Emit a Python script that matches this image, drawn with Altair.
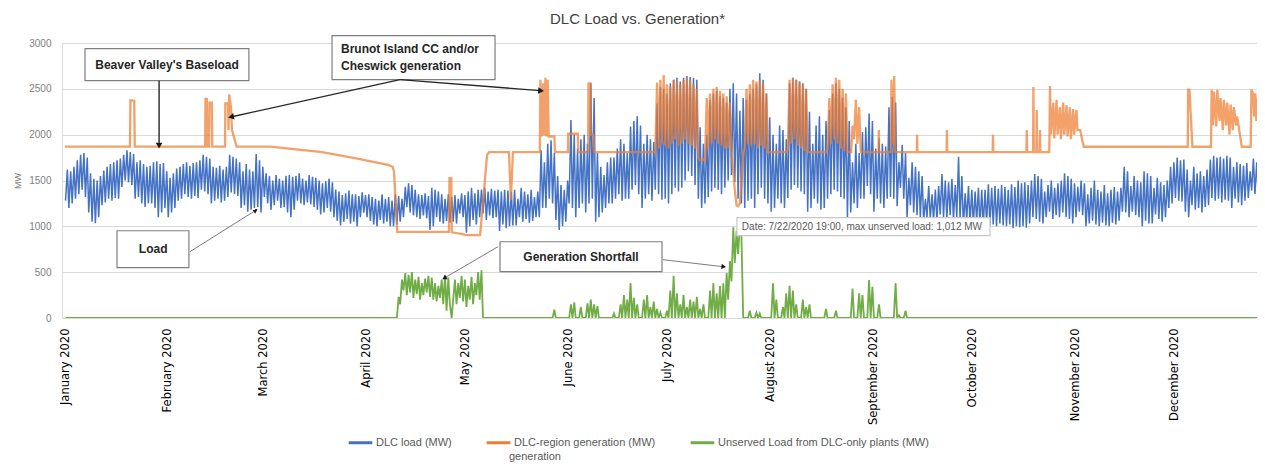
import altair as alt
import numpy as np
import pandas as pd

TITLE = "DLC Load vs. Generation*"
SERIES = ["DLC load (MW)", "DLC-region generation (MW)",
          "Unserved Load from DLC-only plants (MW)"]
COLORS = ["#4472C4", "#ED7D31", "#70AD47"]
Y_TICKS = [0, 500, 1000, 1500, 2000, 2500, 3000]
MONTHS = list(range(1, 13))

# DLC load, one night trough (04:00) and one evening peak (17:00) per day, 1 Jan .. 31 Dec 2020
load_am = [
    1280, 1200, 1250, 1300, 1350, 1400, 1320, 1150, 1050, 1035, 1100, 1230, 1260, 1300, 1280, 1310, 1300, 1430, 1500, 1480, 1450, 1300, 1320, 1250, 1210, 1250, 1250, 1200, 1100, 1150, 1200,
    1100, 1150, 1200, 1280, 1300, 1350, 1320, 1300, 1330, 1310, 1400, 1380, 1350, 1250, 1280, 1300, 1260, 1280, 1320, 1370, 1350, 1330, 1200, 1230, 1160, 1180, 1200, 1210, 1150,
    1320, 1250, 1180, 1230, 1280, 1200, 1210, 1150, 1100, 1180, 1280, 1250, 1230, 1260, 1240, 1210, 1180, 1130, 1150, 1200, 1160, 1100, 1060, 1010, 1050, 1080, 1030, 1050, 1000, 1100, 1150,
    1100, 1060, 1020, 1000, 1070, 1030, 1050, 1000, 1000, 1020, 1050, 1100, 1210, 1150, 1120, 1100, 1080, 1120, 1090, 960, 1000, 1100, 1050, 1030, 1060, 1040, 1050, 1030, 1140, 1100,
    930, 1000, 1070, 1020, 1100, 1140, 1070, 1120, 1090, 1100, 950, 1020, 980, 1000, 1010, 1010, 1100, 1050, 1080, 1040, 1060, 1100, 1100, 1200, 1200, 1300, 1250, 1070, 960, 1000, 1050,
    1250, 1200, 1100, 1200, 1250, 1150, 1250, 1300, 1050, 1100, 1150, 1200, 1250, 1250, 1300, 1350, 1280, 1300, 1300, 1400, 1450, 1350, 1200, 1300, 1350, 1280, 1400, 1350, 1290, 1300,
    1250, 1350, 1420, 1380, 1420, 1500, 1600, 1550, 1450, 1300, 1200, 1250, 1320, 1380, 1420, 1400, 1350, 1420, 1500, 1560, 1480, 1300, 1250, 1200, 1280, 1300, 1200, 1350, 1420, 1300, 1250,
    1160, 1200, 1300, 1250, 1200, 1310, 1400, 1450, 1420, 1380, 1350, 1160, 1200, 1300, 1250, 1180, 1200, 1300, 1350, 1400, 1380, 1320, 1300, 1100, 1150, 1250, 1200, 1300, 1300, 1440, 1350,
    1160, 1300, 1250, 1200, 1300, 1320, 1300, 1220, 1420, 1300, 1100, 1230, 1150, 1120, 1100, 1060, 1100, 1080, 1070, 1060, 1130, 1100, 1080, 1120, 1070, 1100, 1080, 1000, 1070, 1030,
    1020, 1050, 1000, 1000, 1030, 1010, 1020, 1000, 1030, 1010, 1000, 1020, 980, 1000, 990, 1000, 985, 1030, 1100, 1080, 1050, 1030, 1100, 1160, 1080, 1120, 1100, 1150, 1100, 1080, 1030,
    1100, 1160, 1120, 1000, 1030, 1060, 1020, 1000, 1040, 1010, 1000, 1040, 1020, 1060, 1160, 1150, 1100, 1160, 1120, 1100, 1000, 1060, 1030, 1030, 1130, 1080, 1050, 1100, 1200, 1250,
    1310, 1280, 1270, 1160, 1100, 1230, 1180, 1200, 1150, 1210, 1230, 1310, 1280, 1300, 1260, 1290, 1280, 1200, 1300, 1260, 1230, 1280, 1310, 1390, 1350, 1320, 1380, 1340, 1350, 1300, 1280,
]
load_pm = [
    1620, 1600, 1650, 1720, 1780, 1800, 1750, 1580, 1520, 1500, 1550, 1610, 1650, 1680, 1700, 1720, 1740, 1780, 1830, 1810, 1790, 1700, 1720, 1680, 1650, 1660, 1700, 1710, 1680, 1690, 1600,
    1530, 1580, 1630, 1650, 1680, 1700, 1660, 1690, 1700, 1720, 1780, 1760, 1740, 1650, 1640, 1660, 1620, 1650, 1780, 1760, 1740, 1700, 1600, 1680, 1620, 1600, 1790, 1720, 1650,
    1580, 1550, 1500, 1560, 1520, 1500, 1550, 1560, 1540, 1550, 1580, 1520, 1500, 1560, 1540, 1530, 1500, 1470, 1490, 1520, 1480, 1400, 1380, 1340, 1360, 1390, 1350, 1350, 1330, 1370, 1340,
    1350, 1320, 1300, 1280, 1350, 1300, 1320, 1280, 1350, 1330, 1300, 1430, 1470, 1450, 1400, 1350, 1340, 1360, 1330, 1420, 1400, 1380, 1350, 1300, 1350, 1320, 1340, 1300, 1360, 1340,
    1380, 1420, 1360, 1400, 1400, 1420, 1380, 1410, 1390, 1400, 1380, 1400, 1390, 1380, 1400, 1300, 1420, 1380, 1350, 1400, 1320, 1380, 1830, 1700, 1900, 1940, 1800, 1550, 1450, 1400, 1500,
    2160, 2000, 1850, 1950, 2000, 1900, 2560, 2400, 1800, 1650, 1560, 1700, 1750, 1750, 1850, 1950, 1900, 1800, 2090, 2150, 2200, 2100, 1900, 2000, 1950, 1920, 2340, 2520, 2500, 2450,
    2560, 2600, 2620, 2580, 2620, 2640, 2630, 2620, 2600, 2080, 1900, 2000, 2380, 2450, 2480, 2420, 2400, 2350, 2500, 2560, 2450, 2262, 2400, 2380, 2450, 2500, 2550, 2670, 2600, 2450, 2190,
    2000, 1900, 2100, 2050, 1950, 2560, 2620, 2600, 2580, 2560, 2500, 2250, 1900, 2100, 2200, 2000, 2150, 2270, 2450, 2560, 2500, 2400, 2300, 2150, 1700, 1900, 1800, 2030, 2080, 2230, 2150,
    1850, 1960, 1900, 1870, 2300, 2410, 2350, 1700, 1890, 1800, 1530, 1700, 1650, 1600, 1550, 1300, 1440, 1350, 1400, 1440, 1570, 1500, 1480, 1520, 1450, 1760, 1550, 1360, 1440, 1400,
    1380, 1420, 1400, 1400, 1460, 1420, 1440, 1410, 1450, 1430, 1400, 1460, 1430, 1500, 1470, 1480, 1450, 1500, 1570, 1550, 1520, 1380, 1450, 1500, 1420, 1470, 1500, 1580, 1550, 1520, 1470,
    1430, 1500, 1470, 1350, 1420, 1500, 1400, 1380, 1450, 1360, 1400, 1430, 1380, 1420, 1650, 1600, 1440, 1550, 1500, 1480, 1600, 1580, 1550, 1420, 1530, 1480, 1450, 1500, 1650, 1700,
    1750, 1720, 1730, 1620, 1500, 1650, 1580, 1600, 1550, 1620, 1730, 1770, 1750, 1760, 1740, 1770, 1750, 1650, 1700, 1680, 1660, 1690, 1600, 1740, 1700, 1650, 1720, 1680, 1700, 1650, 1600,
]

# DLC-region generation, line vertices as (day of year, MW)
gen_vertices = [
    (0, 1870), (19.6, 1870), (19.75, 2375), (20.9, 2370), (21.05, 1870),
    (42.3, 1870), (42.4, 2390), (42.8, 2390), (42.95, 1870),
    (43.5, 1870), (43.6, 2350), (44.3, 2350), (44.45, 1870),
    (48.3, 1870), (48.4, 2340), (49.2, 2340), (49.35, 2050), (49.55, 2440), (50.1, 2300), (50.4, 2050), (51.8, 1870),
    (62, 1870), (67, 1850), (77.6, 1810), (87.5, 1745), (97.5, 1670), (98.9, 1650), (99.3, 1600), (100.3, 940),
    (115.9, 940), (116.05, 1525), (116.6, 1525), (116.75, 935), (120, 915), (121, 905), (125.3, 905), (127.4, 1780), (128, 1810),
    (134.0, 1810), (134.6, 1290), (135.2, 1810),
    (143.3, 1810), (143.5, 2600), (143.9, 1980), (144.3, 2560), (144.6, 1990), (145.0, 2620), (145.3, 1980), (145.7, 2600), (146.0, 1980), (147.7, 1980), (147.9, 1810),
    (151.8, 1810), (151.9, 2010), (154.8, 2010), (154.9, 1810),
    (157.9, 1810), (158.0, 2560), (158.6, 2560), (158.7, 2000), (159.5, 2000), (159.7, 1810), (178.0, 1810),
    (178.17, 1810), (178.71, 2570), (179.17, 1850), (179.71, 2600), (180.17, 1900), (180.71, 2650), (181.17, 1880), (181.71, 2550),
    (182.17, 1850), (182.71, 2520), (183.17, 1900), (183.71, 2600), (184.17, 1950), (184.71, 2580), (185.17, 1880), (185.71, 2550),
    (186.17, 1900), (186.71, 2600), (187.17, 1950), (187.71, 2620), (188.17, 1900), (188.71, 2600), (189.17, 1880), (189.71, 2550),
    (190.17, 1850), (190.71, 2500), (191.17, 1750), (191.71, 1720), (192.17, 1720), (192.71, 1730), (193.17, 1720), (193.71, 2400),
    (194.17, 1850), (194.71, 2450), (195.17, 1900), (195.71, 2500), (196.17, 1950), (196.71, 2520), (197.17, 1900), (197.71, 2480),
    (198.17, 1880), (198.71, 2450), (199.17, 1850), (199.71, 2420), (200.17, 1850), (200.71, 2350), (201.17, 1800), (201.71, 1600),
    (202.17, 1400), (202.71, 1230), (203.17, 1220), (203.71, 1250), (204.17, 1500), (204.71, 1810),
    (205.17, 1850), (205.71, 2500), (206.17, 1900), (206.71, 2550), (207.17, 1880), (207.71, 2600), (208.17, 1900), (208.71, 2580),
    (209.17, 1850), (209.71, 2600), (210.17, 1880), (210.71, 2550), (211.17, 1850), (211.71, 2450), (212.17, 1810),
    (217.9, 1810), (218.17, 1850), (218.71, 2600), (219.17, 1900), (219.71, 2620), (220.17, 1950), (220.71, 2600),
    (221.17, 1880), (221.71, 2580), (222.17, 1850), (222.71, 2550), (223.17, 1820), (223.71, 2500), (224.17, 1810),
    (229.9, 1810), (230.17, 1850), (230.71, 2400), (231.17, 1900), (231.71, 2550), (232.17, 1950), (232.71, 2620),
    (233.17, 1900), (233.71, 2600), (234.17, 1850), (234.71, 2500), (235.17, 1820), (235.71, 2450), (236.17, 1810),
    (237.3, 1810), (237.71, 2100), (238.17, 1950), (238.71, 2380), (239.17, 1900), (239.71, 2300), (240.17, 1810),
    (245.55, 1810), (245.65, 2050), (245.75, 1810),
    (249.3, 1810), (249.45, 2600), (249.8, 1900), (250.3, 2640), (250.6, 1810),
    (257.1, 1810), (257.2, 2000), (257.3, 1810), (266.1, 1810), (266.2, 2050), (266.3, 1810),
    (280.0, 1810), (280.1, 2000), (280.2, 1810), (290.2, 1810), (290.3, 2050), (290.4, 1810),
    (292.2, 1810), (292.3, 2520), (292.45, 1810), (293.2, 1810), (293.3, 2270), (293.45, 1810),
    (294.2, 1810), (294.3, 2050), (294.4, 1810),
    (297.1, 1810), (297.3, 2530), (297.6, 2000), (298.3, 2350), (298.6, 1960), (299.3, 2380), (299.6, 2000),
    (300.3, 2300), (300.6, 1950), (301.3, 2350), (301.6, 2000), (302.3, 2320), (302.6, 1980), (303.3, 2300),
    (303.6, 1950), (304.3, 2280), (304.6, 2000), (305.3, 2270), (305.6, 2050), (306.4, 2050), (307.5, 1868),
    (338.9, 1868), (339.0, 2490), (339.4, 2490), (340.3, 1868),
    (345.9, 1868), (346.1, 2490), (346.5, 2100), (346.8, 2470), (347.5, 2090), (347.8, 2490), (348.5, 2150),
    (348.8, 2400), (349.5, 2050), (349.8, 2380), (350.5, 2100), (350.8, 2350), (351.5, 2000), (351.8, 2330),
    (352.5, 2050), (352.8, 2300), (353.5, 2100), (353.8, 2200), (355.2, 1868),
    (357.9, 1868), (358.1, 2490), (358.6, 2450), (358.9, 2200), (359.3, 2450), (359.6, 2150), (360.1, 2400),
    (360.5, 2000), (360.9, 1868), (366, 1868),
]

# Unserved load from DLC-only plants: days with a shortfall, night (04:00) and evening (17:00) MW
short_day = [
    100, 101, 102, 103, 104, 105, 106, 107, 108, 109, 110, 111, 112, 113, 114, 115, 116, 117, 118, 119, 120, 121, 122, 123, 124, 125,
    147, 152, 153, 155, 157, 158, 159, 160, 165, 167,
    168, 169, 170, 171, 172, 174, 175, 176, 177, 178,
    179, 181, 182, 183, 184, 185, 186, 187, 188, 189,
    190, 191, 192, 194, 195, 196, 197, 198, 199, 200,
    201, 202, 203, 204, 206, 208, 209, 213, 214, 216,
    217, 218, 219, 220, 222, 223, 224, 229, 232, 237,
    239, 240, 242, 243, 245, 250, 251, 253,
]
short_am = [
    0, 150, 300, 250, 280, 220, 260, 200, 250, 280, 230, 200, 180, 220, 150, 80, 150, 200, 150, 220, 180, 120, 200, 150, 250, 200,
    0, 0, 0, 0, 0, 0, 0, 0, 0, 0,
    0, 0, 0, 0, 0, 0, 0, 0, 0, 0,
    0, 0, 0, 0, 0, 0, 0, 0, 0, 0,
    0, 0, 0, 0, 0, 0, 0, 0, 0, 200,
    400, 600, 700, 900, 0, 0, 0, 0, 0, 0,
    0, 0, 0, 0, 0, 0, 0, 0, 0, 0,
    0, 0, 0, 0, 0, 0, 0, 0,
]
short_pm = [
    230, 420, 490, 470, 500, 420, 450, 380, 430, 460, 440, 380, 350, 420, 460, 440, 0, 420, 380, 460, 420, 350, 450, 380, 500, 520,
    90, 150, 170, 120, 160, 200, 150, 130, 50, 150,
    250, 200, 380, 220, 150, 200, 250, 120, 180, 100,
    60, 80, 300, 460, 270, 150, 250, 120, 200, 180,
    230, 100, 150, 300, 380, 270, 350, 380, 490, 620,
    990, 950, 1012, 0, 80, 60, 50, 380, 200, 120,
    270, 350, 300, 150, 200, 120, 150, 100, 80, 320,
    270, 250, 415, 340, 150, 380, 30, 80,
]

# annotation call-outs (day of year, MW)
box_t = [6.04, 80.6, 15.7, 131.3, 202.8]
box_t2 = [55.5, 129.8, 37.4, 180.2, 279.2]
box_mw = [2938, 3080, 952, 832, 1094]
box_mw2 = [2589, 2600, 549, 505, 898]
box_edge = ["#7f7f7f", "#7f7f7f", "#7f7f7f", "#7f7f7f", "#c8c8c8"]

label_center = ["Beaver Valley's Baseload", "Load", "Generation Shortfall"]
label_center_t = [30.8, 26.6, 155.75]
label_center_mw = [2763, 750, 669]
label_left = ["Brunot Island CC and/or", "Cheswick generation"]
label_left_t = [83.3, 83.3]
label_left_mw = [2930, 2745]
note_text = ["Date: 7/22/2020 19:00, max unserved load: 1,012 MW"]
note_t = [204.3]
note_mw = [996]

arrow_t = [28.4, 101.1, 101.1, 37.7, 130.7, 180.5]
arrow_mw = [2589, 2600, 2600, 723, 778, 636]
arrow_t2 = [28.4, 50.4, 143.4, 57.35, 114.7, 198.6]
arrow_mw2 = [1890, 2196, 2480, 1170, 440, 560]
arrow_w = [1.4, 1.4, 1.4, 0.8, 0.8, 0.8]
arrow_col = ["#262626", "#262626", "#262626", "#595959", "#595959", "#595959"]
arrow_angle = [180, 257.6, 94.5, 57.8, 239.7, 96.7]
arrow_size = [45, 45, 45, 28, 28, 28]

assert len(load_am) == 366 and len(load_pm) == 366, (len(load_am), len(load_pm))
assert len(short_day) == len(short_am) == len(short_pm), (len(short_day), len(short_am), len(short_pm))

T0 = pd.Timestamp("2020-01-01")


def ts(days):
    return T0 + pd.to_timedelta(np.asarray(days, dtype=float), unit="D")


day = np.arange(366)
t_half = np.column_stack([day + 4 / 24, day + 17 / 24]).ravel()

load_df = pd.DataFrame({
    "t": ts(t_half),
    "mw": np.column_stack([load_am, load_pm]).ravel(),
    "series": SERIES[0],
})
gen_df = pd.DataFrame({
    "t": ts([v[0] for v in gen_vertices]),
    "mw": [v[1] for v in gen_vertices],
    "series": SERIES[1],
})
s_am = np.zeros(366)
s_pm = np.zeros(366)
s_am[short_day] = short_am
s_pm[short_day] = short_pm
short_df = pd.DataFrame({
    "t": ts(t_half),
    "mw": np.column_stack([s_am, s_pm]).ravel(),
    "series": SERIES[2],
})

x_scale = alt.Scale(domain=[alt.DateTime(year=2019, month=12, date=31, hours=2, minutes=15),
                            alt.DateTime(year=2020, month=12, date=25, hours=19)])
y_scale = alt.Scale(domain=[0, 3000], nice=False, zero=True)

x_axis = alt.Axis(values=[alt.DateTime(year=2020, month=m, date=1) for m in MONTHS],
                  format="%B %Y", labelAngle=-90, labelAlign="right", labelBaseline="middle",
                  labelFont="DejaVu Sans", labelFontSize=11.5, labelColor="#000000",
                  labelPadding=10, grid=False, ticks=False, domain=False,
                  labelOverlap=False, labelBound=False, title=None)
y_axis = alt.Axis(values=Y_TICKS, format="d", grid=True, gridColor="#d9d9d9", gridWidth=1,
                  domain=False, ticks=False, labelFont="Liberation Sans", labelFontSize=10,
                  labelColor="#808080", labelPadding=11, title="MW",
                  titleFont="Liberation Sans", titleFontSize=9, titleFontWeight="normal",
                  titleColor="#808080", titlePadding=6)

X = alt.X("t:T", scale=x_scale, axis=x_axis, title=None)
Y = alt.Y("mw:Q", scale=y_scale, axis=y_axis, title="MW")

legend = alt.Legend(title=None, orient="none", legendX=285, legendY=386, direction="horizontal",
                    symbolType="stroke", symbolStrokeWidth=3, symbolSize=560, symbolOpacity=1,
                    labelFont="Liberation Sans", labelFontSize=11, labelColor="#595959",
                    labelLimit=0, columnPadding=28, padding=0, labelOffset=2)
COLOR = alt.Color("series:N", scale=alt.Scale(domain=SERIES, range=COLORS), legend=legend)

load_line = alt.Chart(load_df).mark_line(strokeWidth=1.5, clip=True).encode(x=X, y=Y, color=COLOR)
gen_line = alt.Chart(gen_df).mark_line(strokeWidth=2.3, opacity=0.72, clip=True).encode(x=X, y=Y, color=COLOR)
short_line = alt.Chart(short_df).mark_line(strokeWidth=1.8, clip=True).encode(x=X, y=Y, color=COLOR)

box_df = pd.DataFrame({"t": ts(box_t), "t2": ts(box_t2), "mw": box_mw, "mw2": box_mw2, "edge": box_edge})
boxes = alt.Chart(box_df).mark_rect(fill="white", strokeWidth=1.2).encode(
    x=X, x2="t2:T", y=Y, y2="mw2:Q", stroke=alt.Stroke("edge:N", scale=None))

arrow_df = pd.DataFrame({"t": ts(arrow_t), "t2": ts(arrow_t2), "mw": arrow_mw, "mw2": arrow_mw2,
                         "w": arrow_w, "col": arrow_col})
arrows = alt.Chart(arrow_df).mark_rule().encode(
    x=X, x2="t2:T", y=Y, y2="mw2:Q",
    stroke=alt.Stroke("col:N", scale=None), strokeWidth=alt.StrokeWidth("w:Q", scale=None))

head_df = pd.DataFrame({"t": ts(arrow_t2), "mw": arrow_mw2, "ang": arrow_angle, "sz": arrow_size})
heads = alt.Chart(head_df).mark_point(shape="triangle", filled=True, opacity=1, color="#1a1a1a").encode(
    x=X, y=Y, angle=alt.Angle("ang:Q", scale=None), size=alt.Size("sz:Q", scale=None))

lc_df = pd.DataFrame({"t": ts(label_center_t), "mw": label_center_mw, "label": label_center})
labels_c = alt.Chart(lc_df).mark_text(font="Liberation Sans", fontWeight="bold", fontSize=12,
                                      color="#262626", align="center", baseline="middle").encode(
    x=X, y=Y, text="label:N")
ll_df = pd.DataFrame({"t": ts(label_left_t), "mw": label_left_mw, "label": label_left})
labels_l = alt.Chart(ll_df).mark_text(font="Liberation Sans", fontWeight="bold", fontSize=12,
                                      color="#262626", align="left", baseline="middle").encode(
    x=X, y=Y, text="label:N")
note_df = pd.DataFrame({"t": ts(note_t), "mw": note_mw, "label": note_text})
note = alt.Chart(note_df).mark_text(font="Liberation Sans", fontSize=10, color="#595959",
                                    align="left", baseline="middle").encode(x=X, y=Y, text="label:N")

legend_wrap = alt.Chart(pd.DataFrame({"label": ["generation"]})).mark_text(
    font="Liberation Sans", fontSize=11, color="#595959", align="left", baseline="middle").encode(
    x=alt.value(447), y=alt.value(414), text="label:N")

chart = alt.layer(
    load_line, gen_line, short_line, boxes, arrows, heads, labels_c, labels_l, note, legend_wrap
).properties(
    width=1195, height=275,
    autosize=alt.AutoSizeParams(type="none"),
    padding={"left": 54, "top": 35, "right": 0, "bottom": 145},
    title=alt.TitleParams(text=TITLE, font="Liberation Sans", fontSize=15, fontWeight="normal",
                          color="#404040", anchor="middle", dx=-22, offset=8),
).configure_view(stroke=None).configure(background="white")

chart.save("out.html", embed_options={"renderer": "svg", "actions": False})
